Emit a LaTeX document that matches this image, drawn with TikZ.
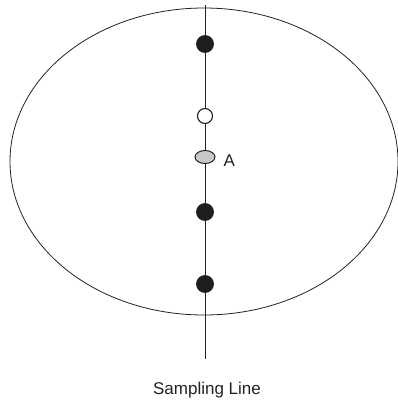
\documentclass[tikz,border=0pt]{standalone}
\usepackage{fontspec}
\setmainfont{Liberation Sans}
\usetikzlibrary{positioning,shapes.geometric}
\definecolor{Ink}{HTML}{222222}
\definecolor{Dot}{HTML}{1E1E1E}
\definecolor{Shade}{HTML}{C8C8C8}

\begin{document}
\begin{tikzpicture}[
  x=1pt,y=-1pt,
  node distance=23pt and 8pt,
  area/.style={draw=Ink,line width=0.8pt,ellipse,minimum width=388pt,minimum height=307pt},
  sample/.style={circle,draw=Ink,line width=0.8pt,fill=Dot,minimum size=17pt,inner sep=0pt},
  blank/.style={circle,draw=Ink,line width=1.1pt,fill=white,minimum size=15pt,inner sep=0pt},
  spot/.style={ellipse,draw=Ink,line width=1pt,fill=Shade,minimum width=20pt,minimum height=13pt,inner sep=0pt},
  tag/.style={inner sep=0pt,font=\fontsize{17}{20}\selectfont,text=Ink}
]
  \useasboundingbox (0,0) rectangle (398,405);
  \node[area] (field) at (204,161.5) {};

  \coordinate (top) at (205,5);
  \coordinate (bottom) at (205,359);
  \draw[Ink,line width=1pt] (top) -- (bottom);

  \node[sample] (s1) at (205,44) {};
  \node[blank] (s2) at (205,116) {};
  \node[spot] (s3) at (205,157) {};
  \node[sample] (s4) at (205,212) {};
  \node[sample] (s5) at (205,284) {};

  \node[tag,right=of s3,yshift=-4pt] (a) {A};
  \node[tag,below=of bottom,xshift=2pt] (caption) {Sampling Line};
\end{tikzpicture}
\end{document}
